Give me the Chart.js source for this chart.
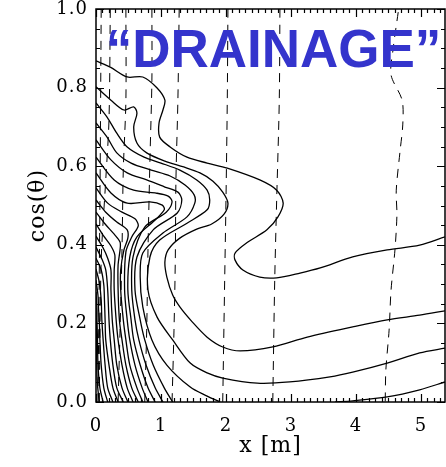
<!DOCTYPE html>
<html>
<head>
<meta charset="utf-8">
<script src="https://cdn.jsdelivr.net/npm/chart.js@4/dist/chart.umd.min.js"></script>
<style>
  html, body { margin: 0; padding: 0; background: #fff; }
</style>
</head>
<body>
<canvas id="chart" width="446" height="467"></canvas>
<script>
// axis ticks and labels
const xTicks = [0, 1, 2, 3, 4, 5];
const yTicks = [0, 0.2, 0.4, 0.6, 0.8, 1.0];
const xLabel = 'x [m]';
const yLabel = 'cos(\u03B8)';
const titleText = '\u201CDRAINAGE\u201D';

// solid contour levels, points are [x (m), cos(theta)]
const levelA = [[0,0.868],[0.22,0.852],[0.48,0.827],[0.72,0.827],[0.94,0.799],[1.06,0.768],[1.03,0.743],[0.97,0.710],[0.98,0.674],[1.14,0.649],[1.40,0.623],[1.71,0.608],[2.02,0.595],[2.52,0.565],[2.78,0.539],[2.88,0.506],[2.80,0.471],[2.63,0.438],[2.32,0.405],[2.14,0.379],[2.14,0.361],[2.26,0.336],[2.52,0.318],[2.78,0.316],[3.14,0.328],[3.45,0.341],[3.95,0.369],[4.48,0.387],[4.98,0.399],[5.37,0.420]];
const levelB = [[0,0.802],[0.23,0.768],[0.43,0.743],[0.58,0.751],[0.63,0.735],[0.58,0.700],[0.63,0.659],[0.78,0.634],[1.06,0.613],[1.35,0.598],[1.60,0.583],[1.80,0.562],[1.95,0.534],[2.03,0.506],[1.97,0.478],[1.78,0.453],[1.55,0.440],[1.29,0.417],[1.11,0.387],[1.06,0.356],[1.09,0.318],[1.18,0.272],[1.29,0.242],[1.48,0.204],[1.71,0.165],[1.95,0.140],[2.22,0.130],[2.72,0.140],[3.25,0.165],[3.95,0.191],[4.48,0.209],[4.98,0.221],[5.37,0.232]];
const levelC = [[0,0.761],[0.17,0.725],[0.32,0.684],[0.48,0.649],[0.74,0.623],[1.00,0.608],[1.29,0.590],[1.55,0.565],[1.71,0.539],[1.75,0.514],[1.71,0.489],[1.40,0.455],[0.98,0.412],[0.83,0.369],[0.80,0.285],[0.94,0.216],[1.18,0.158],[1.45,0.099],[1.71,0.074],[1.95,0.061],[2.48,0.048],[2.98,0.051],[3.60,0.064],[3.95,0.076],[4.48,0.099],[4.98,0.125],[5.37,0.137]];
const levelD = [[0,0.710],[0.17,0.674],[0.32,0.634],[0.54,0.608],[0.85,0.590],[1.14,0.575],[1.37,0.552],[1.51,0.527],[1.52,0.506],[1.40,0.471],[1.03,0.430],[0.72,0.379],[0.68,0.318],[0.72,0.242],[0.86,0.158],[1.09,0.094],[1.45,0.038],[1.71,0.015],[1.91,0]];
const levelD2 = [[3.68,0],[3.95,0.003],[4.48,0.013],[4.98,0.031],[5.37,0.051]];
const levelE = [[0,0.667],[0.23,0.616],[0.48,0.583],[0.78,0.565],[1.06,0.547],[1.26,0.534],[1.32,0.514],[1.25,0.481],[0.88,0.438],[0.63,0.369],[0.60,0.285],[0.68,0.209],[0.75,0.158],[0.88,0.094],[1.05,0.036],[1.18,0]];
const levelF = [[0,0.623],[0.28,0.565],[0.58,0.539],[0.91,0.532],[1.11,0.524],[1.17,0.509],[1.08,0.483],[0.75,0.445],[0.57,0.369],[0.55,0.285],[0.60,0.209],[0.66,0.158],[0.77,0.094],[0.91,0.036],[1.03,0]];
const levelG = [[0,0.583],[0.23,0.532],[0.48,0.506],[0.83,0.509],[1.02,0.501],[1.05,0.489],[0.91,0.463],[0.63,0.420],[0.52,0.369],[0.49,0.285],[0.54,0.209],[0.58,0.158],[0.68,0.094],[0.80,0.036],[0.91,0]];
const levelH = [[0,0.545],[0.18,0.506],[0.40,0.483],[0.60,0.466],[0.65,0.448],[0.55,0.420],[0.46,0.382],[0.44,0.285],[0.48,0.209],[0.52,0.158],[0.60,0.094],[0.71,0.036],[0.80,0]];
const levelI = [[0,0.514],[0.15,0.483],[0.32,0.458],[0.48,0.438],[0.49,0.417],[0.43,0.387],[0.38,0.336],[0.38,0.285],[0.42,0.209],[0.46,0.158],[0.52,0.094],[0.63,0.036],[0.72,0]];
const levelJ = [[0,0.483],[0.14,0.453],[0.28,0.427],[0.37,0.407],[0.37,0.387],[0.34,0.349],[0.34,0.285],[0.36,0.209],[0.40,0.158],[0.46,0.094],[0.55,0.036],[0.65,0]];
const levelK = [[0,0.453],[0.12,0.422],[0.23,0.397],[0.29,0.374],[0.28,0.336],[0.28,0.285],[0.31,0.209],[0.34,0.158],[0.40,0.094],[0.48,0.036],[0.57,0]];
const levelL = [[0,0.422],[0.11,0.392],[0.18,0.366],[0.23,0.336],[0.23,0.285],[0.25,0.209],[0.28,0.158],[0.32,0.094],[0.40,0.036],[0.49,0]];
const levelM = [[0,0.394],[0.09,0.364],[0.15,0.336],[0.18,0.285],[0.20,0.209],[0.22,0.158],[0.26,0.094],[0.32,0.036],[0.42,0]];
const levelN = [[0,0.366],[0.08,0.336],[0.12,0.298],[0.13,0.260],[0.14,0.209],[0.15,0.158],[0.20,0.094],[0.26,0.036],[0.34,0]];
const levelO = [[0,0.338],[0.05,0.305],[0.08,0.260],[0.09,0.209],[0.11,0.158],[0.14,0.094],[0.18,0.036],[0.26,0]];
const levelP = [[0,0.310],[0.03,0.272],[0.04,0.234],[0.05,0.209],[0.06,0.158],[0.08,0.094],[0.12,0.036],[0.18,0]];
const levelQ = [[0,0.280],[0.015,0.234],[0.015,0.209],[0.023,0.158],[0.031,0.094],[0.06,0.036],[0.11,0]];
const levelR = [[0,0.240],[0.008,0.180],[0.010,0.110],[0.020,0.050],[0.05,0]];

// dashed contours
const dashA = [[0.08,1.0],[0.06,0.5],[0.03,0]];
const dashB = [[0.22,1.0],[0.20,0.718],[0.15,0.565],[0.08,0.361],[0.05,0]];
const dashC = [[0.46,1.0],[0.46,0.768],[0.42,0.590],[0.40,0.387],[0.37,0.183],[0.34,0]];
const dashD = [[0.86,1.0],[0.86,0.819],[0.83,0.616],[0.80,0.387],[0.78,0.183],[0.75,0]];
const dashE = [[1.28,1.0],[1.26,0.768],[1.23,0.565],[1.22,0.361],[1.20,0.183],[1.17,0]];
const dashF = [[2.03,1.0],[2.02,0.768],[2.00,0.514],[1.98,0.310],[1.95,0]];
const dashG = [[2.83,1.0],[2.82,0.768],[2.78,0.514],[2.75,0.310],[2.72,0]];
const dashH = [[4.65,0.992],[4.57,0.896],[4.54,0.832],[4.71,0.768],[4.72,0.705],[4.68,0.641],[4.62,0.539],[4.63,0.476],[4.60,0.387],[4.54,0.285],[4.51,0.183],[4.46,0.081],[4.45,0]];

const solidLevels = [levelA, levelB, levelC, levelD, levelD2, levelE, levelF, levelG, levelH,
  levelI, levelJ, levelK, levelL, levelM, levelN, levelO, levelP, levelQ, levelR];
const dashedLevels = [dashA, dashB, dashC, dashD, dashE, dashF, dashG, dashH];

const toXY = pts => pts.map(([x, y]) => ({ x, y }));

const datasets = [
  ...dashedLevels.map(pts => ({
    data: toXY(pts),
    borderColor: '#000',
    borderWidth: 1,
    borderDash: [9, 7],
    pointRadius: 0,
    tension: 0.3,
    fill: false
  })),
  ...solidLevels.map(pts => ({
    data: toXY(pts),
    borderColor: '#000',
    borderWidth: 1.3,
    pointRadius: 0,
    tension: 0.3,
    fill: false
  }))
];

// IDL-style box with inward ticks on all four sides, plus the title
const frameTicks = {
  id: 'frameTicks',
  beforeDraw(chart) {
    chart.ctx.letterSpacing = '1px';
  },
  afterDraw(chart) {
    const { ctx, chartArea: a, scales: { x, y } } = chart;
    ctx.save();
    ctx.letterSpacing = '0px';
    ctx.setLineDash([]);
    ctx.strokeStyle = '#000';
    ctx.lineWidth = 1.2;
    ctx.beginPath();
    for (let i = 0; i <= 53; i++) {
      const px = Math.round(x.getPixelForValue(i / 10)) + 0.5;
      const len = i % 10 === 0 ? 8 : 4;
      ctx.moveTo(px, a.bottom);
      ctx.lineTo(px, a.bottom - len);
      ctx.moveTo(px, a.top);
      ctx.lineTo(px, a.top + len);
    }
    for (let i = 0; i <= 20; i++) {
      const py = Math.round(y.getPixelForValue(i / 20)) + 0.5;
      const len = i % 4 === 0 ? 8 : 4;
      ctx.moveTo(a.left, py);
      ctx.lineTo(a.left + len, py);
      ctx.moveTo(a.right, py);
      ctx.lineTo(a.right - len, py);
    }
    ctx.stroke();
    ctx.lineWidth = 1.5;
    ctx.strokeRect(a.left, a.top, a.right - a.left, a.bottom - a.top);

    ctx.font = 'bold 53px "Liberation Sans", Arial, sans-serif';
    ctx.fillStyle = '#3434cc';
    ctx.textAlign = 'center';
    ctx.textBaseline = 'alphabetic';
    ctx.fillText(titleText, (a.left + a.right) / 2 + 3, a.top + 58);
    ctx.restore();
  }
};

const tickFont = { family: '"DejaVu Serif", serif', size: 18 };
const titleFont = { family: '"DejaVu Serif", serif', size: 22 };

new Chart(document.getElementById('chart'), {
  type: 'line',
  data: { datasets },
  options: {
    responsive: false,
    animation: false,
    devicePixelRatio: 1,
    layout: { padding: { top: 9, right: 1, left: 0, bottom: 0 } },
    plugins: { legend: { display: false }, tooltip: { enabled: false } },
    scales: {
      x: {
        type: 'linear',
        min: 0,
        max: 5.37,
        afterBuildTicks: s => { s.ticks = xTicks.map(v => ({ value: v })); },
        afterFit: s => { s.height = 65; s.paddingLeft = 0; s.paddingRight = 0; },
        grid: { display: false, drawTicks: false },
        border: { display: false },
        ticks: {
          padding: 14,
          color: '#000',
          font: tickFont,
          maxRotation: 0,
          autoSkip: false,
          callback: v => String(v)
        },
        title: { display: true, text: xLabel, color: '#000', font: titleFont, padding: { top: 0, bottom: 8 } }
      },
      y: {
        type: 'linear',
        min: 0,
        max: 1,
        afterBuildTicks: s => { s.ticks = yTicks.map(v => ({ value: v })); },
        afterFit: s => { s.width = 96; s.paddingTop = 0; s.paddingBottom = 0; },
        grid: { display: false, drawTicks: false },
        border: { display: false },
        ticks: {
          padding: 8,
          color: '#000',
          font: tickFont,
          autoSkip: false,
          callback: v => v.toFixed(1)
        },
        title: { display: true, text: yLabel, color: '#000', font: titleFont, padding: { top: 25, bottom: 0 } }
      }
    }
  },
  plugins: [frameTicks]
});
</script>
</body>
</html>
